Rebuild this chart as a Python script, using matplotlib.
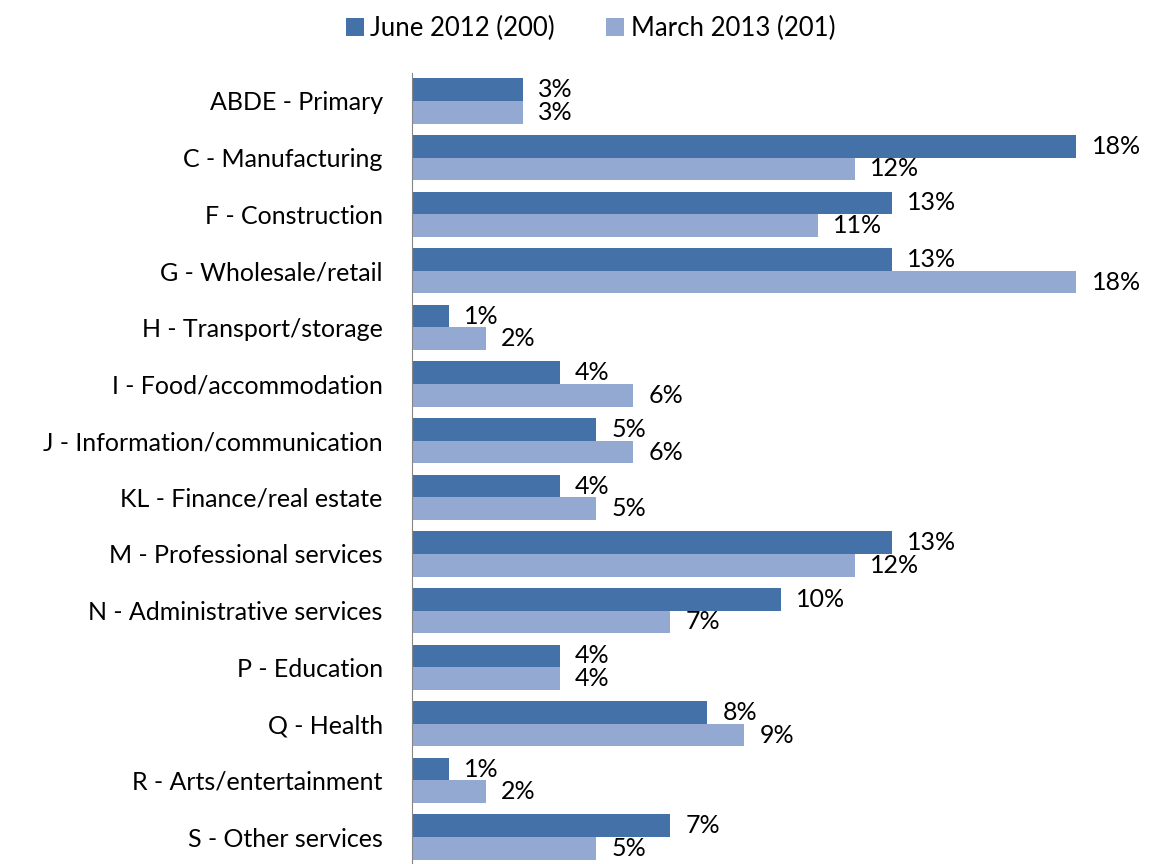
import numpy as np
import matplotlib
matplotlib.use('Agg')
from matplotlib import pyplot as plt

plt.rcParams['font.family'] = ['Lato', 'DejaVu Sans']

# Sectors and shares (%)
sectors = ['ABDE - Primary', 'C - Manufacturing', 'F - Construction',
           'G - Wholesale/retail', 'H - Transport/storage',
           'I - Food/accommodation', 'J - Information/communication',
           'KL - Finance/real estate', 'M - Professional services',
           'N - Administrative services', 'P - Education', 'Q - Health',
           'R - Arts/entertainment', 'S - Other services']
june_2012 = [3, 18, 13, 13, 1, 4, 5, 4, 13, 10, 4, 8, 1, 7]
march_2013 = [3, 12, 11, 18, 2, 6, 6, 5, 12, 7, 4, 9, 2, 5]
series_names = ['June 2012 (200)', 'March 2013 (201)']

dark = '#4472A8'
light = '#94A9D2'

fig = plt.figure(figsize=(11.56, 8.64), dpi=100)
ax = fig.add_axes([0.3564, -0.0016, 0.6384, 0.9175])

y = np.arange(len(sectors))
h = 0.4
b1 = ax.barh(y - h / 2, june_2012, height=h, color=dark, label=series_names[0])
b2 = ax.barh(y + h / 2, march_2013, height=h, color=light, label=series_names[1])

for bars, vals in [(b1, june_2012), (b2, march_2013)]:
    for bar, v in zip(bars, vals):
        ax.annotate(f'{v}%', (bar.get_width(), bar.get_y() + bar.get_height() / 2),
                    xytext=(11, 0), textcoords='offset points',
                    ha='left', va='center', fontsize=18)

ax.set_xlim(0, 20)
ax.set_ylim(13.5, -0.5)
ax.set_yticks(y)
ax.set_yticklabels(sectors, fontsize=18)
ax.set_xticks([])
ax.tick_params(axis='y', length=0, pad=21)
for s in ['top', 'right', 'bottom']:
    ax.spines[s].set_visible(False)
ax.spines['left'].set_color('#868686')

fig.legend(loc='upper center', bbox_to_anchor=(0.511, 1.008), ncol=2, frameon=False,
           fontsize=18.5, handlelength=0.7, handleheight=0.7, handletextpad=0.25,
           columnspacing=2.0)

fig.savefig('out.png', dpi=100)
